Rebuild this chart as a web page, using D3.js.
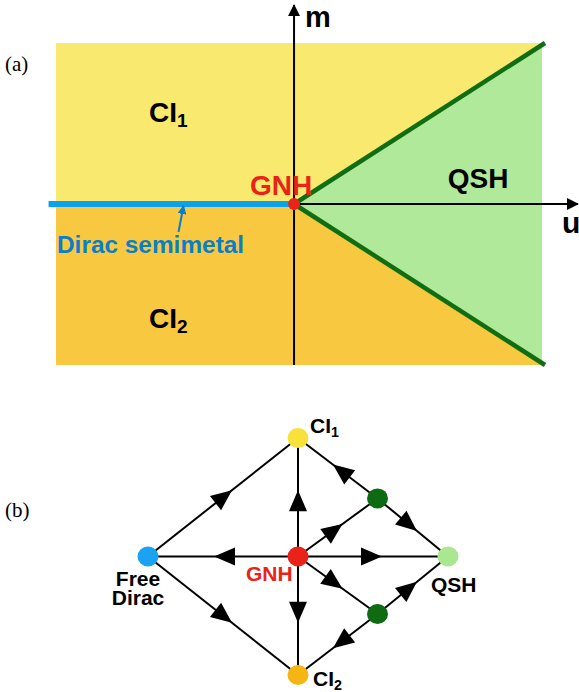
<!DOCTYPE html>
<html>
<head>
<meta charset="utf-8">
<script src="https://cdn.jsdelivr.net/npm/d3@7"></script>
<style>
  html, body { margin: 0; padding: 0; background: #ffffff; }
  svg { display: block; }
  text { font-family: "Liberation Sans", Arial, Helvetica, sans-serif; font-weight: bold; }
  .panel { font-family: "Liberation Serif", "Times New Roman", serif; font-weight: normal; }
</style>
</head>
<body>
<svg id="chart" width="579" height="692"></svg>
<script>
// ---------------- Data: (a) phase diagram ----------------
const uDomain = [-0.96, 1];          // interaction u range of the shaded map
const mDomain = [-1, 1];             // mass m range of the shaded map
const phaseNames = ["CI1", "CI2", "QSH"];
const phaseLabelU = [-0.585, -0.585, 0.62];
const phaseLabelM = [0.51, -0.77, 0.10];
const boundaryU = [0, 1.012];        // QSH boundary lines m = ±u
const boundaryM = [0, 1.0];
const diracLineU = [-0.99, -0.02];   // Dirac semimetal line (m = 0, u < 0)
const axisUEnd = 1.145;
const axisMEnd = 1.236;

// ---------------- Data: (b) RG flow diagram ----------------
const nodeNames = ["CI1", "CI2", "FreeDirac", "GNH", "QSH", "G1", "G2"];
const nodeX = [0, 0, -1, 0, 1, 0.53, 0.53];
const nodeY = [1, -1, 0, 0, 0, 0.49, -0.485];
const flowFrom = ["FreeDirac", "FreeDirac", "GNH", "GNH", "GNH", "GNH", "GNH", "GNH", "G1", "G1", "G2", "G2"];
const flowTo   = ["CI1", "CI2", "FreeDirac", "CI1", "CI2", "QSH", "G1", "G2", "CI1", "QSH", "QSH", "CI2"];

// ---------------- Styles ----------------
const colCI1 = "#fae96f", colCI2 = "#f8c940", colQSH = "#b1e99b";
const colBoundary = "#0f6e10", colDirac = "#0aa2ee", colDiracText = "#0a7ec8", colGNH = "#ea2318";
const nodeColors = {CI1: "#f8e13a", CI2: "#f5b614", FreeDirac: "#1aa3f2", GNH: "#e9231a", QSH: "#a9e790", G1: "#0e6b12", G2: "#0e6b12"};

const svg = d3.select("#chart");

// ================= Panel (a) =================
const x = d3.scaleLinear().domain(uDomain).range([56, 542]);
const y = d3.scaleLinear().domain(mDomain).range([365, 43]);
const ga = svg.append("g");

ga.append("rect").attr("x", x(uDomain[0])).attr("y", y(mDomain[1]))
  .attr("width", x(uDomain[1]) - x(uDomain[0])).attr("height", y(0) - y(mDomain[1])).attr("fill", colCI1);
ga.append("rect").attr("x", x(uDomain[0])).attr("y", y(0))
  .attr("width", x(uDomain[1]) - x(uDomain[0])).attr("height", y(mDomain[0]) - y(0)).attr("fill", colCI2);

const slope = boundaryM[1] / boundaryU[1];
const line = d3.line().x(d => x(d[0])).y(d => y(d[1]));
ga.append("path")
  .attr("d", line([[0, 0], [uDomain[1], slope * uDomain[1]], [uDomain[1], -slope * uDomain[1]]]) + "Z")
  .attr("fill", colQSH);

// axes
const defs = svg.append("defs");
defs.append("marker").attr("id", "axArrow").attr("viewBox", "0 0 12 12")
  .attr("refX", 11).attr("refY", 6).attr("markerWidth", 12).attr("markerHeight", 12)
  .attr("markerUnits", "userSpaceOnUse").attr("orient", "auto")
  .append("path").attr("d", "M0,0 L12,6 L0,12 Z").attr("fill", "#000");
defs.append("marker").attr("id", "blueArrow").attr("viewBox", "0 0 10 10")
  .attr("refX", 9).attr("refY", 5).attr("markerWidth", 9).attr("markerHeight", 9)
  .attr("markerUnits", "userSpaceOnUse").attr("orient", "auto")
  .append("path").attr("d", "M0,0 L10,5 L0,10 Z").attr("fill", colDiracText);

ga.append("path").attr("d", line([[0, mDomain[0]], [0, axisMEnd]]))
  .attr("stroke", "#000").attr("stroke-width", 2).attr("fill", "none").attr("marker-end", "url(#axArrow)");
ga.append("path").attr("d", line([[0, 0], [axisUEnd, 0]]))
  .attr("stroke", "#000").attr("stroke-width", 2).attr("fill", "none").attr("marker-end", "url(#axArrow)");

// boundaries
[1, -1].forEach(s => {
  ga.append("path").attr("d", line([[boundaryU[0], s * boundaryM[0]], [boundaryU[1], s * boundaryM[1]]]))
    .attr("stroke", colBoundary).attr("stroke-width", 4.5).attr("fill", "none").attr("stroke-linecap", "butt");
});

// Dirac semimetal line
ga.append("path").attr("d", line([[diracLineU[0], 0], [diracLineU[1], 0]]))
  .attr("stroke", colDirac).attr("stroke-width", 6).attr("fill", "none");

// GNH point
ga.append("circle").attr("cx", x(0)).attr("cy", y(0)).attr("r", 6).attr("fill", colGNH);

// labels
function subLabel(g, txt, sub, px, py, size, color) {
  const t = g.append("text").attr("x", px).attr("y", py).attr("font-size", size).attr("fill", color || "#000");
  t.append("tspan").text(txt);
  if (sub) t.append("tspan").text(sub).attr("font-size", size * 0.68).attr("dy", size * 0.18);
  return t;
}
phaseNames.forEach((p, i) => {
  const main = p.startsWith("CI") ? "CI" : p;
  const sub = p.startsWith("CI") ? p.slice(2) : null;
  subLabel(ga, main, sub, x(phaseLabelU[i]), y(phaseLabelM[i]), 28);
});
ga.append("text").attr("x", 250).attr("y", y(0) - 9).attr("font-size", 28).attr("fill", colGNH).text("GNH");
ga.append("text").attr("x", 305).attr("y", 27).attr("font-size", 29).text("m");
ga.append("text").attr("x", 562).attr("y", 233).attr("font-size", 30).text("u");
ga.append("text").attr("x", 57).attr("y", 253).attr("font-size", 24.4).attr("fill", colDiracText).text("Dirac semimetal");
ga.append("line").attr("x1", 178.5).attr("y1", 232).attr("x2", 183.5).attr("y2", 206)
  .attr("stroke", colDiracText).attr("stroke-width", 2).attr("marker-end", "url(#blueArrow)");
ga.append("text").attr("class", "panel").attr("x", 5).attr("y", 71).attr("font-size", 21).text("(a)");

// ================= Panel (b) =================
const bx = d3.scaleLinear().domain([-1, 1]).range([148, 448]);
const by = d3.scaleLinear().domain([-1, 1]).range([675, 438]);
const gb = svg.append("g");
const pos = {};
nodeNames.forEach((n, i) => { pos[n] = [bx(nodeX[i]), by(nodeY[i])]; });

const arrowT = 0.56, headL = 21, headW = 18;
flowFrom.forEach((f, i) => {
  const a = pos[f], b = pos[flowTo[i]];
  gb.append("line").attr("x1", a[0]).attr("y1", a[1]).attr("x2", b[0]).attr("y2", b[1])
    .attr("stroke", "#000").attr("stroke-width", 2);
});
flowFrom.forEach((f, i) => {
  const a = pos[f], b = pos[flowTo[i]];
  const tx = a[0] + (b[0] - a[0]) * arrowT, ty = a[1] + (b[1] - a[1]) * arrowT;
  const ang = Math.atan2(b[1] - a[1], b[0] - a[0]) * 180 / Math.PI;
  gb.append("path").attr("d", `M0,0 L${-headL},${-headW / 2} L${-headL},${headW / 2} Z`)
    .attr("transform", `translate(${tx},${ty}) rotate(${ang})`).attr("fill", "#000");
});
nodeNames.forEach(n => {
  gb.append("ellipse").attr("cx", pos[n][0]).attr("cy", pos[n][1]).attr("rx", 10.5).attr("ry", 10)
    .attr("fill", nodeColors[n]);
});

subLabel(gb, "CI", "1", 310, 433, 21);
subLabel(gb, "CI", "2", 313, 686, 21);
gb.append("text").attr("x", 431).attr("y", 592).attr("font-size", 21).text("QSH");
gb.append("text").attr("x", 246).attr("y", 581).attr("font-size", 21).attr("fill", colGNH).text("GNH");
const fd = gb.append("text").attr("text-anchor", "middle").attr("font-size", 21);
fd.append("tspan").attr("x", 138).attr("y", 586).text("Free");
fd.append("tspan").attr("x", 138).attr("y", 605).text("Dirac");
gb.append("text").attr("class", "panel").attr("x", 5).attr("y", 517).attr("font-size", 21).text("(b)");
</script>
</body>
</html>
